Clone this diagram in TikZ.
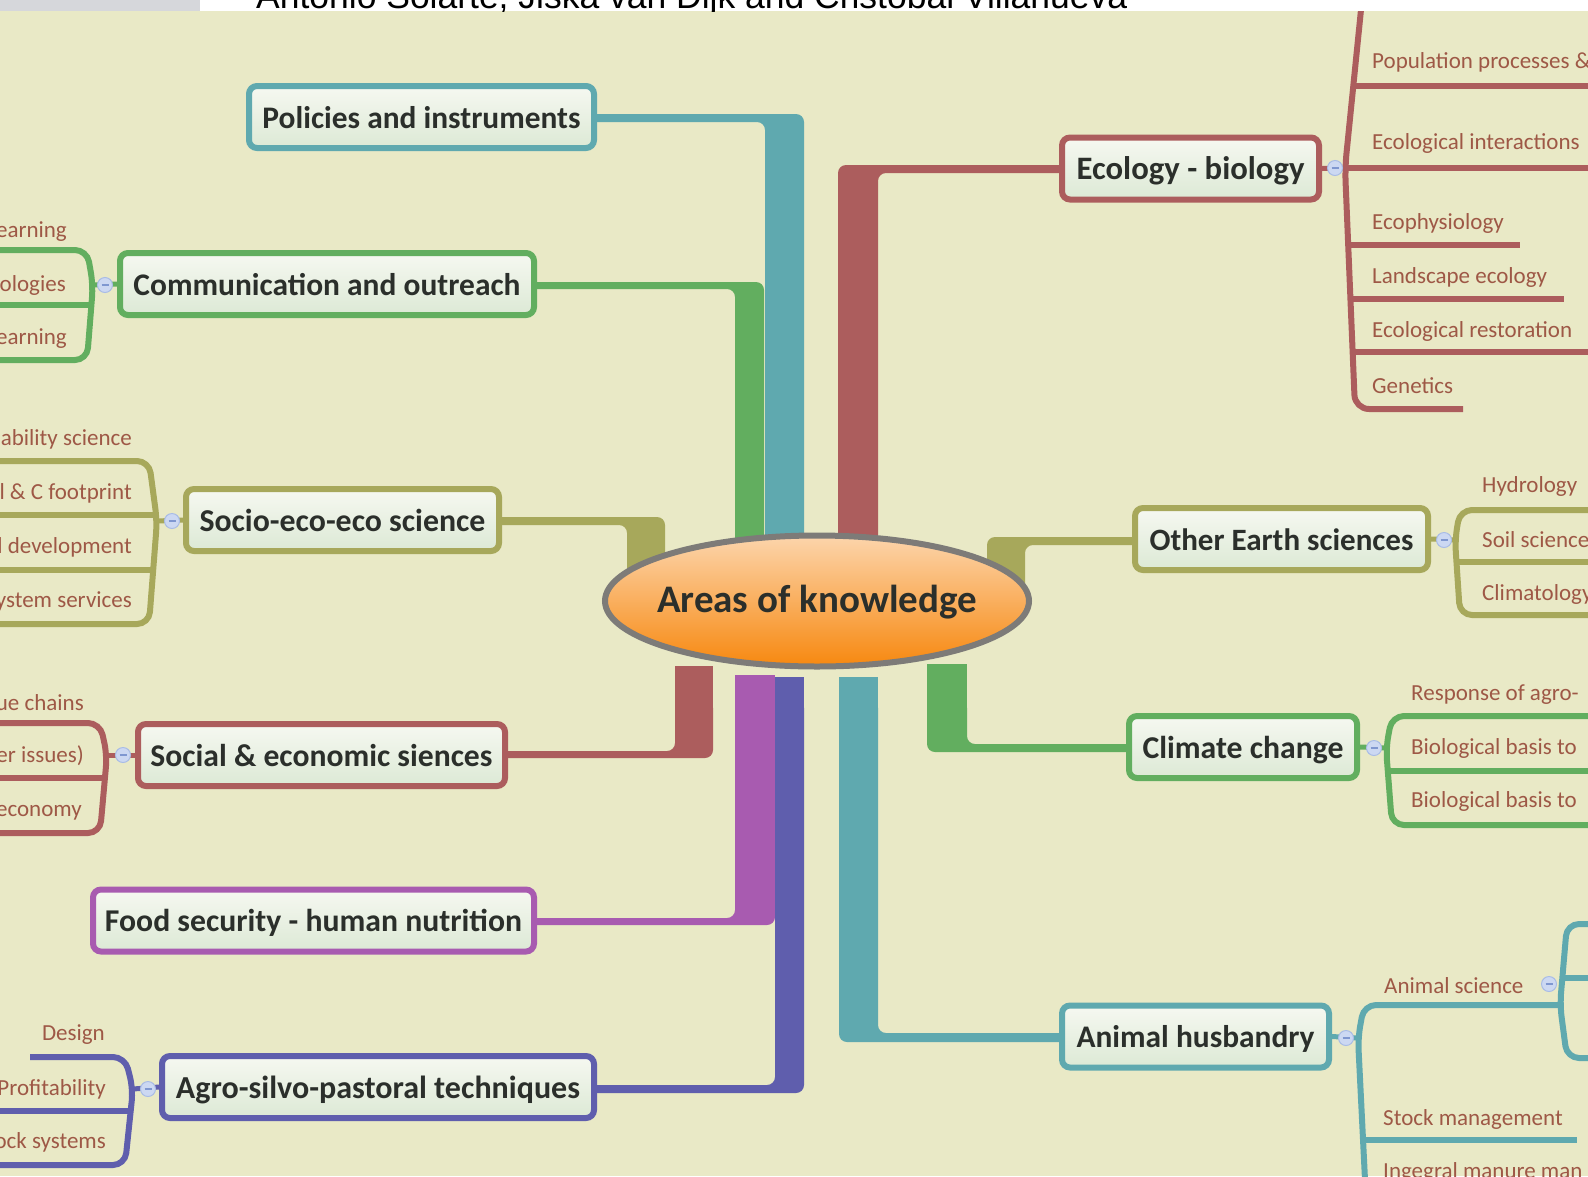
\documentclass[tikz,border=0pt]{standalone}
\usepackage{fontspec}
\setmainfont{Carlito}
\newfontfamily\arialf{Liberation Sans}
\usetikzlibrary{shapes.geometric,calc}
\definecolor{cteal}{HTML}{5FA9AF}
\definecolor{cgreen}{HTML}{62AE5F}
\definecolor{cred}{HTML}{AC5D5D}
\definecolor{colive}{HTML}{A7A85B}
\definecolor{cpurple}{HTML}{A85BB0}
\definecolor{cblue}{HTML}{5F5EAD}
\definecolor{bgc}{HTML}{E9E9C6}
\definecolor{boxtop}{HTML}{F6F8F1}
\definecolor{boxbot}{HTML}{DCE9D5}
\definecolor{maintext}{HTML}{2B2F2B}
\definecolor{childtext}{HTML}{9E5846}
\definecolor{ellborder}{HTML}{7D7B78}
\definecolor{elltop}{HTML}{FCD5AC}
\definecolor{ellbot}{HTML}{F7880F}
\definecolor{colfill}{HTML}{CCD8F2}
\definecolor{coldraw}{HTML}{A9BCE6}
\definecolor{colminus}{HTML}{7F97D0}
\definecolor{bandgrey}{HTML}{D6D7DB}
\tikzset{
  mainbox/.style={draw=#1, line width=6pt, rounded corners=8pt, top color=boxtop, bottom color=boxbot, minimum height=62pt, inner sep=0pt},
  maintxt/.style={anchor=base, inner sep=0pt, text=maintext, font=\bfseries\fontsize{30}{30}\selectfont},
  kid/.style={inner sep=0pt, text=childtext, font=\fontsize{23}{23}\selectfont},
  kidR/.style={kid, anchor=base west},
  kidL/.style={kid, anchor=base east},
  brk/.style={draw=#1, line width=6pt, rounded corners=12pt},
  twig/.style={draw=#1, line width=6pt},
  link/.style={draw=#1, line width=5pt},
  collapse/.style={circle, minimum size=15pt, inner sep=0pt, fill=colfill, draw=coldraw, line width=1pt,
    path picture={\draw[colminus, line width=1.5pt] ([xshift=-3.5pt]path picture bounding box.center) -- ([xshift=3.5pt]path picture bounding box.center);}},
}
\begin{document}
\begin{tikzpicture}[x=1pt,y=-1pt]
\useasboundingbox (0,0) rectangle (1588,1176);
\clip (0,0) rectangle (1588,1176);
\fill[bgc] (0,0) rectangle (1588,1176);

% ---------- main branches (thick connectors) ----------
\fill[cgreen, rounded corners=8pt] (520,282) -- (764,282) -- (764,560) -- (735,560) -- (735,289) -- (520,289) -- cycle;
\fill[cteal, rounded corners=8pt] (580,114) -- (804,114) -- (804,560) -- (765,560) -- (765,122) -- (580,122) -- cycle;
\fill[cred, rounded corners=8pt] (1075,165) -- (838,165) -- (838,560) -- (878,560) -- (878,173) -- (1075,173) -- cycle;
\fill[colive, rounded corners=8pt] (490,517) -- (665,517) -- (665,600) -- (627,600) -- (627,525) -- (490,525) -- cycle;
\fill[colive, rounded corners=8pt] (1145,537) -- (987,537) -- (987,600) -- (1025,600) -- (1025,545) -- (1145,545) -- cycle;
\fill[cred, rounded corners=8pt] (675,700) -- (675,751) -- (495,751) -- (495,758) -- (713,758) -- (713,700) -- cycle;
\fill[cred] (675,666) rectangle (713,710);
\fill[cpurple, rounded corners=8pt] (735,700) -- (735,918) -- (520,918) -- (520,925) -- (775,925) -- (775,700) -- cycle;
\fill[cpurple] (735,675) rectangle (775,710);
\fill[cblue, rounded corners=8pt] (775,700) -- (775,1085) -- (580,1085) -- (580,1093) -- (804,1093) -- (804,700) -- cycle;
\fill[cblue] (775,677) rectangle (804,710);
\fill[cteal, rounded corners=8pt] (839,700) -- (839,1042) -- (1075,1042) -- (1075,1033) -- (878,1033) -- (878,700) -- cycle;
\fill[cteal] (839,677) rectangle (878,710);
\fill[cgreen, rounded corners=8pt] (927,700) -- (927,752) -- (1140,752) -- (1140,744) -- (967,744) -- (967,700) -- cycle;
\fill[cgreen] (927,664) rectangle (967,710);

% ---------- root ----------
\node[ellipse, draw=ellborder, line width=6pt, top color=elltop, bottom color=ellbot, minimum width=424pt, minimum height=131pt, inner sep=0pt] (root) at (817,601) {};
\node[maintxt] (roott) at ($(root.center)+(0,11)$) {\resizebox{320pt}{!}{Areas of knowledge}};

% ---------- main topic boxes ----------
\node[mainbox=cteal, minimum width=345pt] (pol) at (421.5,117) {};
\node[mainbox=cgreen, minimum width=414pt] (com) at (327,284) {};
\node[mainbox=colive, minimum width=313pt] (soc) at (342.5,520) {};
\node[mainbox=cred, minimum width=367pt] (sec) at (321.5,755) {};
\node[mainbox=cpurple, minimum width=441pt] (food) at (313.5,920.5) {};
\node[mainbox=cblue, minimum width=432pt] (agro) at (378,1087) {};
\node[mainbox=cred, minimum width=257pt] (eco) at (1190.5,168.5) {};
\node[mainbox=colive, minimum width=293pt] (oth) at (1281.5,539) {};
\node[mainbox=cgreen, minimum width=228pt] (cli) at (1243,747) {};
\node[mainbox=cteal, minimum width=267pt] (ani) at (1195.5,1036.5) {};

\node[maintxt] (polt) at ($(pol.center)+(0,11)$) {\resizebox{318pt}{!}{Policies and instruments}};
\node[maintxt] (comt) at ($(com.center)+(0,11)$) {\resizebox{387pt}{!}{Communication and outreach}};
\node[maintxt] (soct) at ($(soc.center)+(0,11)$) {\resizebox{286pt}{!}{Socio-eco-eco science}};
\node[maintxt] (sect) at ($(sec.center)+(0,11)$) {\resizebox{342pt}{!}{Social \& economic siences}};
\node[maintxt] (foodt) at ($(food.center)+(0,11)$) {\resizebox{417pt}{!}{Food security - human nutrition}};
\node[maintxt] (agrot) at ($(agro.center)+(0,11)$) {\resizebox{404pt}{!}{Agro-silvo-pastoral techniques}};
\node[maintxt] (ecot) at ($(eco.center)+(0,11)$) {\resizebox{228pt}{!}{Ecology - biology}};
\node[maintxt] (otht) at ($(oth.center)+(0,11)$) {\resizebox{264pt}{!}{Other Earth sciences}};
\node[maintxt] (clit) at ($(cli.center)+(0,11)$) {\resizebox{201pt}{!}{Climate change}};
\node[maintxt] (anit) at ($(ani.center)+(0,11)$) {\resizebox{238pt}{!}{Animal husbandry}};

% ---------- left subtrees ----------
% Communication
\draw[link=cgreen] (com.west) -- (92,285);
\draw[brk=cgreen] (-10,250) -- (87,250) -- (93,285) -- (87,360) -- (-10,360);
\draw[twig=cgreen] (-10,305) -- (91,305);
\node[collapse] (ccom) at (105,285) {};
\node[kidL] at (67,237) {earning};
\node[kidL] at (66,291) {ologies};
\node[kidL] at (67,344) {earning};
% Socio-eco-eco
\draw[link=colive] (soc.west) -- (157,521);
\draw[brk=colive] (-10,461) -- (149,461) -- (157,521) -- (149,624) -- (-10,624);
\draw[twig=colive] (-10,515) -- (156,515);
\draw[twig=colive] (-10,570) -- (153,570);
\node[collapse] (csoc) at (172,521) {};
\node[kidL] at (132,445) {ability science};
\node[kidL] at (132,499) {l \& C footprint};
\node[kidL] at (132,553) {l development};
\node[kidL] at (132,607) {ystem services};
% Social & economic
\draw[link=cred] (sec.west) -- (107,755);
\draw[brk=cred] (-10,723) -- (100,723) -- (107,755) -- (100,833) -- (-10,833);
\draw[twig=cred] (-10,778) -- (105,778);
\node[collapse] (csec) at (123,755) {};
\node[kidL] at (84,710) {ue chains};
\node[kidL] at (84,762) {er issues)};
\node[kidL] at (82,816) {economy};
% Agro-silvo-pastoral
\draw[link=cblue] (agro.west) -- (133,1089);
\draw[brk=cblue] (30,1057) -- (125,1057) -- (133,1089) -- (125,1165) -- (-10,1165);
\draw[twig=cblue] (-10,1111) -- (131,1111);
\node[collapse] (cagro) at (148,1089) {};
\node[kidL] at (105,1040) {Design};
\node[kidL] at (106,1095) {Profitability};
\node[kidL] at (106,1148) {ock systems};

% ---------- right subtrees ----------
% Ecology - biology
\draw[link=cred] (eco.east) -- (1346,168);
\draw[brk=cred, rounded corners=14pt] (1364,-20) -- (1345,168) -- (1355,409) -- (1463,409);
\draw[twig=cred] (1353,86) -- (1600,86);
\draw[twig=cred] (1345,168) -- (1600,168);
\draw[twig=cred] (1348,245) -- (1520,245);
\draw[twig=cred] (1350,299) -- (1564,299);
\draw[twig=cred] (1353,352) -- (1600,352);
\node[collapse] (ceco) at (1335,168) {};
\node[kidR] at (1372,68) {Population processes \&};
\node[kidR] at (1372,149) {Ecological interactions};
\node[kidR] at (1372,229) {Ecophysiology};
\node[kidR] at (1372,283) {Landscape ecology};
\node[kidR] at (1372,337) {Ecological restoration};
\node[kidR] at (1372,393) {Genetics};
% Other Earth sciences
\draw[link=colive] (oth.east) -- (1455,540);
\draw[brk=colive] (1600,510) -- (1460,510) -- (1455,540) -- (1460,615) -- (1600,615);
\draw[twig=colive] (1457,562) -- (1600,562);
\node[collapse] (coth) at (1444,540) {};
\node[kidR] at (1482,492) {Hydrology};
\node[kidR] at (1482,547) {Soil science};
\node[kidR] at (1482,600) {Climatology};
% Climate change
\draw[link=cgreen] (cli.east) -- (1386,748);
\draw[brk=cgreen] (1600,716) -- (1392,716) -- (1386,748) -- (1392,825) -- (1600,825);
\draw[twig=cgreen] (1389,771) -- (1600,771);
\node[collapse] (ccli) at (1374,748) {};
\node[kidR] at (1411,700) {Response of agro-};
\node[kidR] at (1411,754) {Biological basis to};
\node[kidR] at (1411,807) {Biological basis to};
% Animal husbandry
\draw[link=cteal] (ani.east) -- (1358,1038);
\draw[brk=cteal] (1561,1005) -- (1364,1005) -- (1358,1038) -- (1366,1200);
\draw[twig=cteal] (1363,1140) -- (1577,1140);
\draw[brk=cteal] (1600,924) -- (1567,924) -- (1560,1005) -- (1567,1058) -- (1600,1058);
\draw[twig=cteal] (1564,978) -- (1600,978);
\node[collapse] (cani) at (1346,1038) {};
\node[collapse] (cans) at (1549,984) {};
\node[kidR] at (1384,993) {Animal science};
\node[kidR] at (1383,1125) {Stock management};
\node[kidR] at (1383,1178) {Ingegral manure man};

% ---------- top band ----------
\fill[white] (0,0) rectangle (1588,11);
\fill[bandgrey] (0,0) rectangle (200,11);
\begin{scope}
\clip (0,0) rectangle (1588,11);
\node[anchor=base west, inner sep=0pt, font=\arialf, text=black] (hdr) at (256,8) {\resizebox{871pt}{!}{Antonio Solarte, Jiska van Dijk and Cristobal Villanueva}};
\end{scope}
\end{tikzpicture}
\end{document}
